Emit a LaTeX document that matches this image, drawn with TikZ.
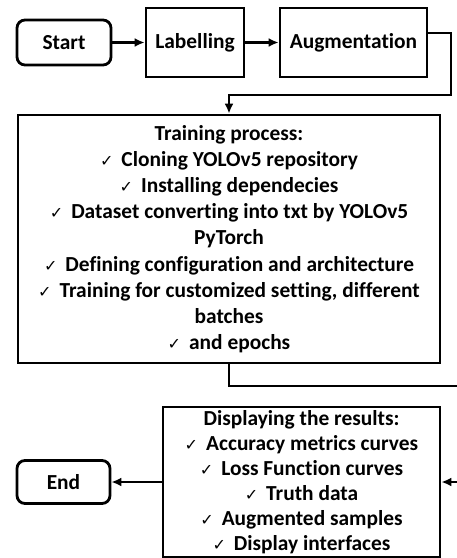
\documentclass[tikz,border=0pt]{standalone}
\usepackage{fontspec}
\setmainfont{Carlito}[Ligatures=NoCommon]
\newfontfamily\symfont{DejaVu Sans}
\usetikzlibrary{arrows.meta}
\newcommand{\chk}{{\symfont\fontsize{16}{16}\selectfont ✓}\hspace{8pt}}

\begin{document}
\begin{tikzpicture}[x=1pt, y=-1pt,
    box/.style={draw, line width=2.8pt, rectangle, align=center, inner sep=0pt,
      font=\bfseries\fontsize{21.4}{26.2}\selectfont},
    term/.style={box, rounded corners=8pt},
    flow/.style={line width=2.8pt, -{Latex[length=10pt,width=9pt]}}]
        \useasboundingbox (0,0) rectangle (457,558);

        % Top row
        \node[term, minimum width=94pt, minimum height=45pt] (start) at (64, 42.5) {Start};
        \node[box, minimum width=98pt, minimum height=69pt] (label) at (195, 42.5) {Labelling};
        \node[box, minimum width=147pt, minimum height=69pt] (augm) at (353.5, 42.5) {Augmentation};

        % Training
        \node[box, minimum width=422pt, minimum height=248pt] (train) at (229, 239) {Training process:\\
            \chk Cloning YOLOv5 repository\\
            \chk Installing dependecies\\
            \chk Dataset converting into txt by YOLOv5\\
            PyTorch\\
            \chk Defining configuration and architecture\\
            \chk Training for customized setting, different\\
            batches\\
            \chk and epochs};

        % Results
        \node[box, minimum width=277pt, minimum height=150pt,
          font=\bfseries\fontsize{21.4}{25}\selectfont] (disp) at (301.5, 482) {Displaying the results:\\
            \chk Accuracy metrics curves\\
            \chk Loss Function curves\\
            \chk Truth data\\
            \chk Augmented samples\\
            \chk Display interfaces};
        \node[term, minimum width=93pt, minimum height=43pt] (end) at (63.5, 482) {End};

        \coordinate (bendA) at (451, 95);
        \coordinate (bendB) at (463, 386);

        \draw[flow] (start) -- (label);
        \draw[flow] (label) -- (augm);
        \draw[flow] ([yshift=9.5pt]augm.east) -| (bendA) -| (train.north);
        \draw[flow] (train.south) |- (bendB) |- (disp.east);
        \draw[flow] (disp.west) -- (end.east);
    \end{tikzpicture}
\end{document}
